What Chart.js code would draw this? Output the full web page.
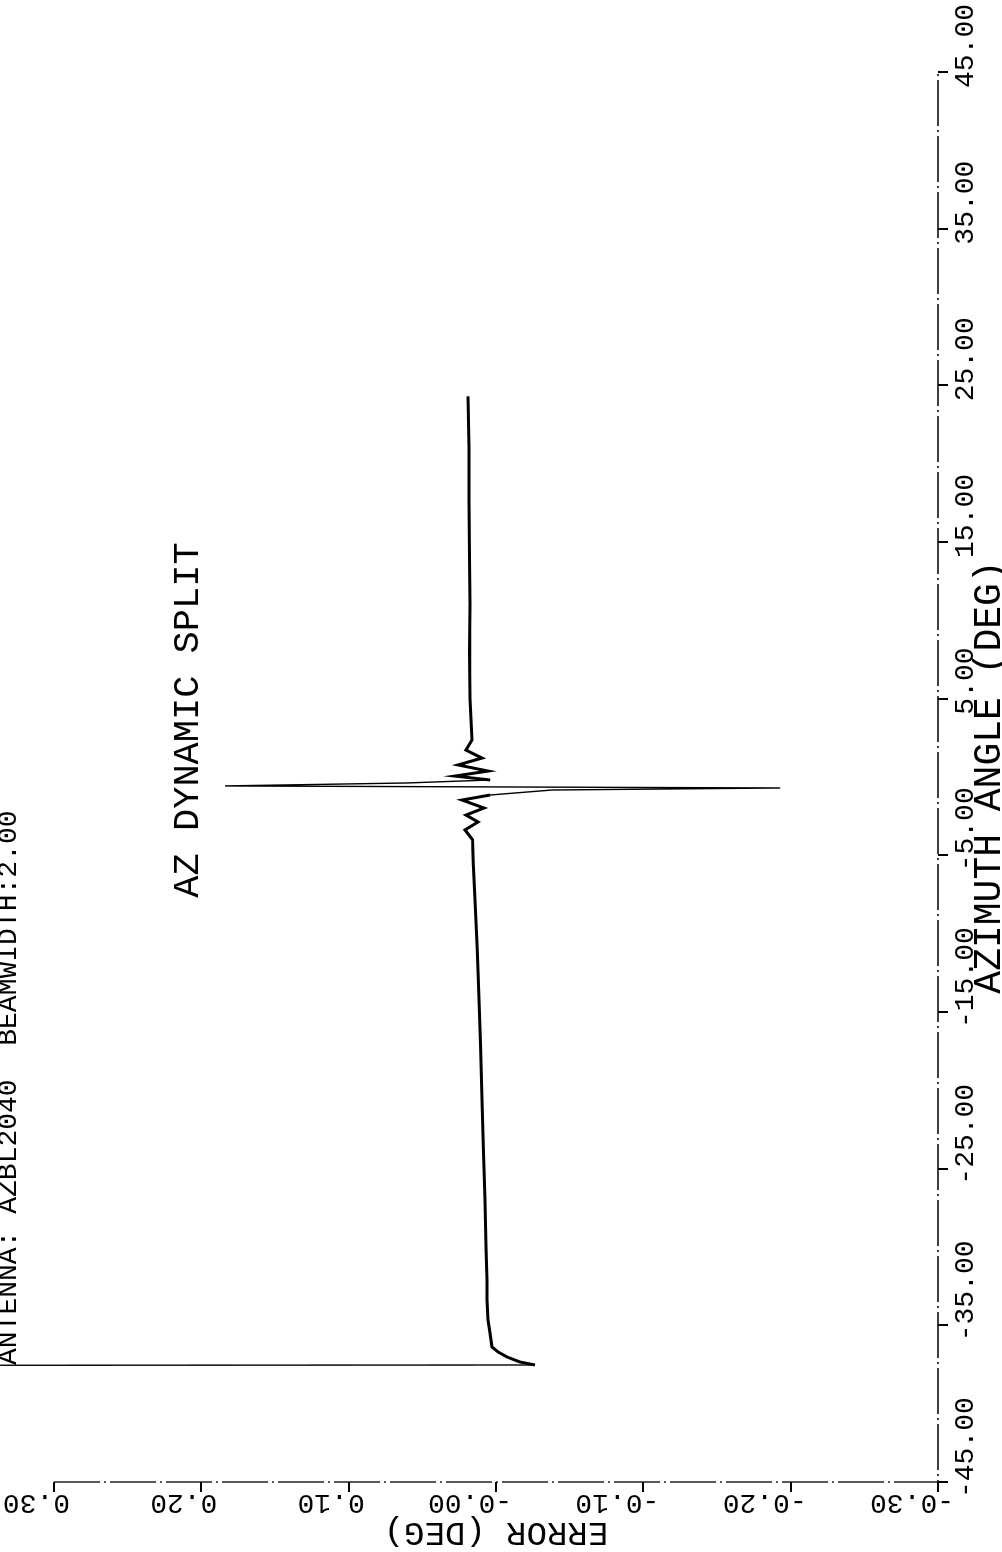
<!DOCTYPE html>
<html>
<head>
<meta charset="utf-8">
<script src="https://cdn.jsdelivr.net/npm/chart.js@4.4.1/dist/chart.umd.min.js"></script>
<style>
  html, body { margin: 0; padding: 0; background: #fff; overflow: hidden; }
  #page { position: relative; width: 1002px; height: 1552px; overflow: hidden; }
  /* the plot was drawn sideways: build it upright, then turn it a quarter left */
  #plot {
    position: absolute; left: 0; top: 0;
    width: 1552px; height: 1002px;
    transform-origin: 0 0;
    transform: translateY(1552px) rotate(-90deg);
  }
</style>
</head>
<body>
<div id="page"><canvas id="plot" width="1552" height="1002"></canvas></div>
<script>
// azimuth angle (deg) and pointing error (deg)
const azimuth = [
  -37.55, -37.53, -37.34, -37.02, -36.70, -36.38, -35.49, -34.66, -33.38, -32.11,
  -30.0, -27.0, -24.0, -20.6, -17.0, -14.2, -11.0, -7.85, -5.5, -4.0,
  -3.38, -2.87, -2.43, -1.98, -1.47, -1.15, -0.83, -0.70, -0.57, -0.38,
  -0.19, 0.06, 0.38, 0.77, 1.21, 1.72, 2.36,
  5.0, 8.0, 11.0, 14.0, 17.7, 21.0, 24.3
];
const error = [
  0.36, -0.0265, -0.0163, -0.0075, -0.0014, 0.0027, 0.0041, 0.0054, 0.0061, 0.0061,
  0.0068, 0.0075, 0.0085, 0.0095, 0.0105, 0.0115, 0.0128, 0.0143, 0.0155, 0.016,
  0.021, 0.0122, 0.0204, 0.0081, 0.0231, 0.0041, -0.038, -0.193, 0.184, 0.060,
  0.004, 0.028, 0.0054, 0.0258, 0.0095, 0.0204, 0.0163,
  0.0176, 0.018, 0.0176, 0.018, 0.0183, 0.0183, 0.019
];

const azimuthTicks = [-45, -35, -25, -15, -5, 5, 15, 25, 35, 45];
const errorTicks = [0.3, 0.2, 0.1, 0, -0.1, -0.2, -0.3];
const errorTickLabels = ['0.30', '0.20', '0.10', '-0.00', '-0.10', '-0.20', '-0.30'];

const titleText = 'ANTENNA: AZBL2040  BEAMWIDTH:2.00';
const noteText = 'AZ DYNAMIC SPLIT';
const noteAt = [-7.7, 0.209];

const MONO = '"Liberation Mono", "DejaVu Sans Mono", monospace';

// plotter style axes (dash-dot) plus the sideways y labels and the notes
const sideLabels = {
  id: 'sideLabels',
  beforeDatasetsDraw(chart) {
    const { ctx, chartArea: a } = chart;
    ctx.save();
    ctx.strokeStyle = '#000';
    ctx.lineWidth = 1.3;
    ctx.setLineDash([46, 4, 2, 4]);
    ctx.beginPath();
    ctx.moveTo(a.left, a.top);
    ctx.lineTo(a.left, a.bottom);
    ctx.lineTo(a.right, a.bottom);
    ctx.stroke();
    ctx.restore();
  },
  afterDraw(chart) {
    const ctx = chart.ctx;
    const xs = chart.scales.x;
    const ys = chart.scales.y;
    ctx.save();
    ctx.fillStyle = '#000';
    ctx.textAlign = 'left';

    ctx.font = '28px ' + MONO;
    ctx.textBaseline = 'alphabetic';
    errorTicks.forEach((v, i) => {
      const p = ys.getPixelForValue(v);
      ctx.save();
      ctx.translate(57, p + 16);
      ctx.rotate(-Math.PI / 2);
      ctx.fillText(errorTickLabels[i], 0, 0);
      ctx.restore();
    });

    ctx.font = '37px ' + MONO;
    ctx.textBaseline = 'middle';
    ctx.fillText(noteText, xs.getPixelForValue(noteAt[0]), ys.getPixelForValue(noteAt[1]));

    // the heading runs off the top edge of the sheet
    ctx.font = '28px ' + MONO;
    ctx.textBaseline = 'alphabetic';
    ctx.fillText(titleText, 187, 16);
    ctx.restore();
  }
};

const noBorder = { display: false };

new Chart(document.getElementById('plot').getContext('2d'), {
  type: 'scatter',
  data: {
    datasets: [{
      data: azimuth.map((a, i) => ({ x: a, y: error[i] })),
      showLine: true,
      borderColor: '#000',
      borderWidth: 3,
      pointRadius: 0,
      tension: 0,
      clip: false,
      segment: {
        // the fast pen strokes come out thinner
        borderWidth: c => Math.abs(c.p1.y - c.p0.y) > 40 ? 1.4 : 3
      }
    }]
  },
  options: {
    responsive: false,
    animation: false,
    devicePixelRatio: 1,
    layout: { padding: { top: 54, right: 72, bottom: 0, left: 0 } },
    plugins: { legend: { display: false }, tooltip: { enabled: false } },
    scales: {
      x: {
        type: 'linear',
        position: 'bottom',
        min: -45, max: 45,
        afterBuildTicks: s => { s.ticks = azimuthTicks.map(v => ({ value: v })); },
        afterFit: s => { s.height = 64; s.paddingLeft = 0; s.paddingRight = 0; },
        border: noBorder,
        grid: { drawOnChartArea: false, drawTicks: true, tickLength: 10, color: '#000', lineWidth: 2 },
        ticks: {
          autoSkip: false,
          maxRotation: 0,
          align: 'start',
          labelOffset: -16,
          padding: 1,
          color: '#000',
          font: { family: MONO, size: 28 },
          callback: v => v.toFixed(2)
        },
        title: {
          display: true,
          text: 'AZIMUTH ANGLE (DEG)',
          color: '#000',
          padding: 0,
          font: { family: MONO, size: 38, lineHeight: 0.62 }
        }
      },
      y: {
        type: 'linear',
        position: 'left',
        min: -0.3, max: 0.3,
        afterBuildTicks: s => { s.ticks = errorTicks.map(v => ({ value: v })); },
        afterFit: s => { s.width = 70; s.paddingTop = 0; s.paddingBottom = 0; },
        border: noBorder,
        grid: { drawOnChartArea: false, drawTicks: true, tickLength: 10, color: '#000', lineWidth: 2 },
        ticks: { display: false },
        title: {
          display: true,
          text: 'ERROR (DEG)',
          color: '#000',
          padding: 0,
          font: { family: MONO, size: 34, lineHeight: 1.2 }
        }
      }
    }
  },
  plugins: [sideLabels]
});
</script>
</body>
</html>
